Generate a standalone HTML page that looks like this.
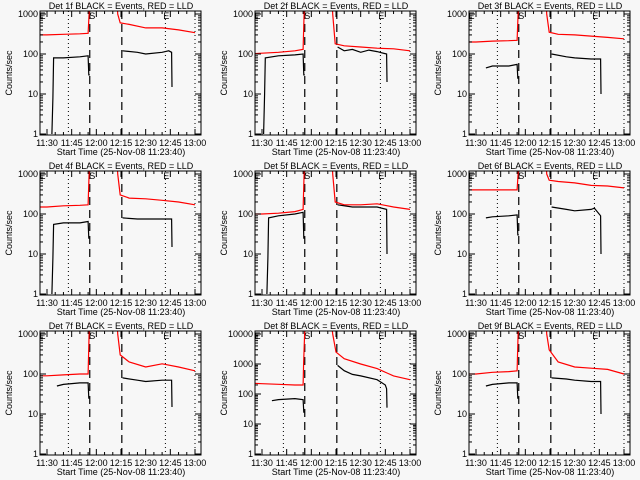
<!DOCTYPE html>
<html><head><meta charset="utf-8"><style>
html,body{margin:0;padding:0;background:#f7f7f7;}
svg{display:block;font-family:"Liberation Sans",sans-serif;}
text{fill:#000;font-size:9px;}
</style></head><body>
<svg id="chart" width="640" height="480" viewBox="0 0 640 480">
<rect width="640" height="480" fill="#f7f7f7"/>
</svg>
<script>
// times in minutes after 11:00
const detNames = ["1f","2f","3f","4f","5f","6f","7f","8f","9f"];
const panelYMax = [1000,1000,1000,1000,1000,1000,1000,10000,1000];
const xTickMinutes = [30,45,60,75,90,105,120];
const xTickLabels = ["11:30","11:45","12:00","12:15","12:30","12:45","13:00"];
const dottedLines = [43,102,120];
const dashedLines = [56,75.5];
const markerTimes = [27.3,57.5,102.5];
const markerLabels = ["E","S","E"];

const redT1=[22,30,40,50,55,55.6,56,72,73,74.5,80,90,100,110,120];
const redV1=[300,300,310,320,330,1000,8000,8000,1000,600,550,450,450,400,340];
const blkT1=[33,33.6,34,40,50,55,55.4,56,75.5,76,85,90,100,104,105.8,106];
const blkV1=[1,8,80,80,85,90,30,30,null,120,110,100,110,120,110,15];

const redT2=[22,30,40,50,55,55.6,56,72,73,74.5,80,90,100,110,120];
const redV2=[100,105,110,120,130,1000,8000,8000,1000,180,160,150,140,135,120];
const blkT2=[31,31.6,32,40,50,55,55.4,56,75.5,76,80,85,90,95,100,105.8,106];
const blkV2=[1,10,80,90,95,100,30,30,null,150,120,130,110,125,115,100,20];

const redT3=[22,30,40,50,55,55.6,56,72,73,74.5,80,90,100,110,120];
const redV3=[200,200,210,215,220,1000,8000,8000,1000,350,310,300,280,260,240];
const blkT3=[36,40,50,55,55.4,56,75.5,76,85,90,100,105.8,106];
const blkV3=[45,50,50,55,25,25,null,100,85,80,75,75,10];

const redT4=[22,30,40,50,55,55.6,56,72,73,74.5,80,90,100,110,120];
const redV4=[150,150,160,165,170,1000,8000,8000,1000,300,250,240,220,200,170];
const blkT4=[33,33.6,34,40,50,55,55.4,56,75.5,76,85,90,100,105.8,106];
const blkV4=[1,8,55,60,60,65,25,25,null,80,75,75,75,75,15];

const redT5=[22,30,40,50,55,55.6,56,72,73,74.5,80,90,100,110,120];
const redV5=[100,100,105,115,130,1000,8000,8000,1000,200,170,170,180,150,130];
const blkT5=[33,33.6,34,40,50,55,55.4,56,75.5,76,85,90,100,105.8,106];
const blkV5=[1,8,80,90,100,110,25,25,null,170,150,150,150,130,10];

const redT6=[22,30,40,50,55,55.6,56,72,73,74.5,80,90,100,110,120];
const redV6=[400,400,400,400,400,1000,8000,8000,1000,700,650,600,520,500,450];
const blkT6=[36,40,50,55,55.4,56,75.5,76,85,90,100,102,105.8,106];
const blkV6=[80,85,90,95,30,30,null,150,130,120,130,140,90,10];

const redT7=[22,30,40,50,55,55.6,56,72,73,74.5,80,90,100,110,120];
const redV7=[90,90,95,100,100,1000,8000,8000,1000,300,200,150,180,150,120];
const blkT7=[36,40,50,55,55.4,56,75.5,76,85,90,100,105.8,106];
const blkV7=[50,55,60,60,25,25,null,80,70,65,70,70,15];

const redT8=[22,30,40,50,55,55.3,55.8,56.2,72,73,75,80,90,100,106,110,120];
const redV8=[230,220,210,200,200,1000,6000,30000,30000,10000,2500,1500,1000,700,500,400,300];
const blkT8=[36,40,50,55,55.4,56,75.5,76,80,85,90,100,105,105.8,106];
const blkV8=[60,65,70,65,25,25,null,900,600,450,400,300,200,150,35];

const redT9=[22,30,40,50,55,55.6,56,72,73,74.5,80,90,100,110,120];
const redV9=[100,100,110,115,120,1000,8000,8000,1000,400,200,150,140,130,100];
const blkT9=[36,40,50,55,55.4,56,75.5,76,85,90,100,105.8,106];
const blkV9=[50,55,60,60,25,25,null,80,75,70,65,65,10];

const redTs=[redT1,redT2,redT3,redT4,redT5,redT6,redT7,redT8,redT9];
const redVs=[redV1,redV2,redV3,redV4,redV5,redV6,redV7,redV8,redV9];
const blkTs=[blkT1,blkT2,blkT3,blkT4,blkT5,blkT6,blkT7,blkT8,blkT9];
const blkVs=[blkV1,blkV2,blkV3,blkV4,blkV5,blkV6,blkV7,blkV8,blkV9];

const NS="http://www.w3.org/2000/svg";
const svg=document.getElementById("chart");
function mk(tag,attrs,parent){const e=document.createElementNS(NS,tag);for(const k in attrs)e.setAttribute(k,attrs[k]);(parent||svg).appendChild(e);return e;}
const colX=[0,215,429];

for(let p=0;p<9;p++){
  const ox=colX[p%3], oy=Math.floor(p/3)*160;
  const L=ox+40,R=ox+201,T=oy+11,B=oy+135;
  const decades=Math.round(Math.log10(panelYMax[p]));
  const pxDec=(134-14)/decades;
  const xs=t=>ox+47+(t-30)*148/90;
  const ys=v=>oy+134-Math.log10(v)*pxDec;
  const g=mk("g",{});
  
  
  const cid="clip"+p;
  const cp=mk("clipPath",{id:cid},g);mk("rect",{x:L,y:T,width:R-L,height:B-T},cp);
  const title=mk("text",{x:ox+121,y:oy+9,"text-anchor":"middle"},g);
  title.textContent="Det "+detNames[p]+" BLACK = Events, RED = LLD";
  
  
  dottedLines.forEach(t=>{const l=mk("line",{x1:xs(t),x2:xs(t),y1:T,y2:B,stroke:"#000","stroke-width":1,"stroke-dasharray":"1,3"},g);
    });
  dashedLines.forEach(t=>{const l=mk("line",{x1:xs(t),x2:xs(t),y1:T,y2:B,stroke:"#000","stroke-width":1.2,"stroke-dasharray":"8,5"},g);
    });
  markerTimes.forEach((t,i)=>{const tx=mk("text",{x:xs(t),y:T+8,"font-size":"11","text-anchor":"middle"},g);tx.textContent=markerLabels[i];
    });
  function path(ts,vs){let d="",pen=false;for(let i=0;i<ts.length;i++){if(vs[i]==null){pen=false;continue;}d+=(pen?"L":"M")+xs(ts[i]).toFixed(1)+","+ys(vs[i]).toFixed(1);pen=true;}return d;}
  const red=mk("path",{d:path(redTs[p],redVs[p]),fill:"none",stroke:"#ff0000","stroke-width":1.2,"clip-path":"url(#"+cid+")"},g);
  
  const blk=mk("path",{d:path(blkTs[p],blkVs[p]),fill:"none",stroke:"#000","stroke-width":1.2,"clip-path":"url(#"+cid+")"},g);
  
  const box=mk("rect",{x:L,y:T,width:R-L,height:B-T,fill:"none",stroke:"#000","stroke-width":1},g);
  
  for(let t=25;t<=125;t+=5){const x=xs(t);if(x<L||x>R)continue;const len=(t%15==0)?6:3;
    mk("line",{x1:x,x2:x,y1:B,y2:B-len,stroke:"#000"},g);mk("line",{x1:x,x2:x,y1:T,y2:T+len,stroke:"#000"},g);}
  xTickMinutes.forEach((t,i)=>{const tx=mk("text",{x:xs(t),y:oy+146,"text-anchor":"middle","font-size":"8"},g);tx.textContent=xTickLabels[i];
    });
  const xt=mk("text",{x:ox+121,y:oy+155,"text-anchor":"middle"},g);xt.textContent="Start Time (25-Nov-08 11:23:40)";
  
  for(let d=0;d<=decades;d++){const v=Math.pow(10,d);const y=ys(v);
    mk("line",{x1:L,x2:L+6,y1:y,y2:y,stroke:"#000"},g);mk("line",{x1:R,x2:R-6,y1:y,y2:y,stroke:"#000"},g);
    const tx=mk("text",{x:L-2,y:y+3,"text-anchor":"end","font-size":"8"},g);tx.textContent=String(v);
    
    if(d<decades)for(let m=2;m<10;m++){const ym=ys(v*m);mk("line",{x1:L,x2:L+3,y1:ym,y2:ym,stroke:"#000"},g);mk("line",{x1:R,x2:R-3,y1:ym,y2:ym,stroke:"#000"},g);}}
  const yt=mk("text",{x:ox+12,y:oy+73,"text-anchor":"middle","font-size":"8",transform:"rotate(-90 "+(ox+12)+" "+(oy+73)+")"},g);
  yt.textContent="Counts/sec";
  
}
</script>
</body></html>
